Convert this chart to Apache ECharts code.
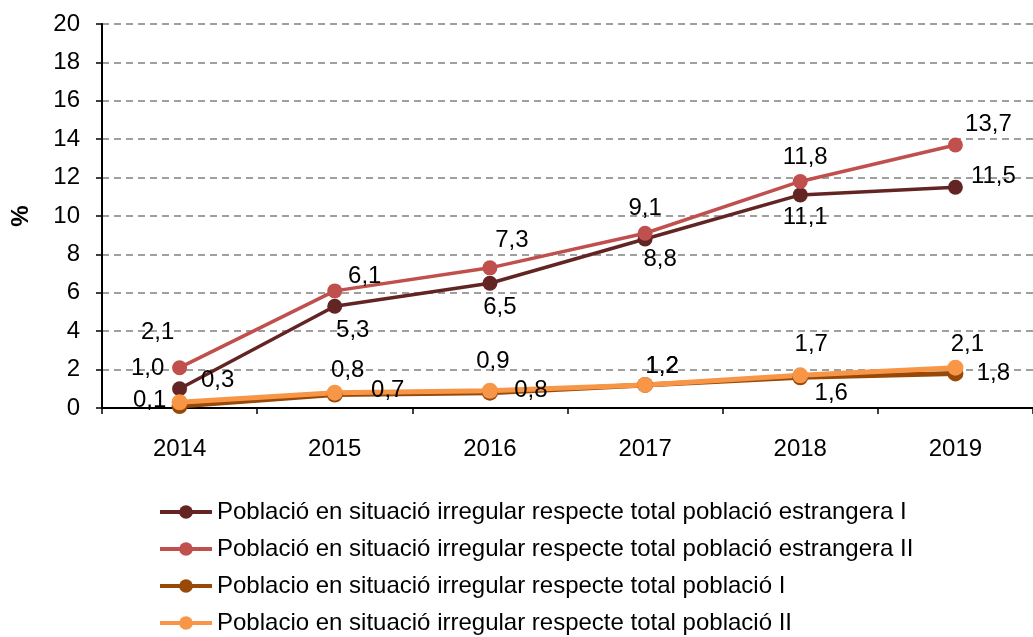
<!DOCTYPE html>
<html>
<head>
<meta charset="utf-8">
<script src="https://cdn.jsdelivr.net/npm/echarts@6/dist/echarts.min.js"></script>
<style>
  html, body { margin: 0; padding: 0; background: #fff; }
  #chart { width: 1033px; height: 637px; }
</style>
</head>
<body>
<div id="chart"></div>
<script>
// Dades
const years = ['2014', '2015', '2016', '2017', '2018', '2019']
const estrangeraI  = [1.0, 5.3, 6.5, 8.8, 11.1, 11.5]
const estrangeraII = [2.1, 6.1, 7.3, 9.1, 11.8, 13.7]
const totalI       = [0.1, 0.7, 0.8, 1.2, 1.6, 1.8]
const totalII      = [0.3, 0.8, 0.9, 1.2, 1.7, 2.1]
const seriesNames = [
  'Població en situació irregular respecte total població estrangera I',
  'Població en situació irregular respecte total població estrangera II',
  'Poblacio en situació irregular respecte total població I',
  'Poblacio en situació irregular respecte total població II',
]

// Desplaçament de cada etiqueta respecte al seu punt (estil)
const offsEstI  = [[-32, -20], [18, 24], [10, 24], [15, 20], [5, 22], [38, -11]]
const offsEstII = [[-22, -35], [30, -15], [22, -27], [0, -25], [5, -24], [33, -21]]
const offsTotI  = [[-30, -6], [53, -4], [41, -2], [17, -19], [31, 16], [38, 0]]
const offsTotII = [[38, -22], [13, -22], [3, -29], [17, -19], [11, -31], [12, -23]]

const FONT = '"Liberation Sans", Arial, sans-serif'

function lineSeries(name, values, offs, color, width, size) {
  return {
    name,
    type: 'line',
    data: values,
    symbol: 'circle',
    symbolSize: size,
    lineStyle: { color, width },
    itemStyle: { color },
    label: {
      show: true,
      position: 'inside',
      align: 'center',
      verticalAlign: 'middle',
      color: '#000',
      fontSize: 24,
      fontFamily: FONT,
      formatter: p => p.value.toFixed(1).replace('.', ','),
    },
    labelLayout: p => ({ dx: offs[p.dataIndex][0], dy: offs[p.dataIndex][1], hideOverlap: false }),
    emphasis: { disabled: true },
    animation: false,
  }
}

const chart = echarts.init(document.getElementById('chart'), null, { renderer: 'canvas' })
chart.setOption({
  backgroundColor: '#fff',
  textStyle: { fontFamily: FONT },
  grid: { left: 102, top: 24, width: 942, height: 384, containLabel: false },
  xAxis: {
    type: 'category',
    data: years,
    boundaryGap: true,
    axisLine: { lineStyle: { color: '#000', width: 2 } },
    axisTick: { show: true, length: 6, lineStyle: { color: '#000', width: 1.5 } },
    axisLabel: { color: '#000', fontSize: 24, margin: 29, fontFamily: FONT },
    splitLine: { show: false },
  },
  yAxis: {
    type: 'value',
    min: 0,
    max: 20,
    interval: 2,
    name: '%',
    nameLocation: 'middle',
    nameGap: 69,
    nameRotate: 90,
    nameTextStyle: { color: '#000', fontSize: 24, fontWeight: 'bold', fontFamily: FONT },
    axisLine: { show: true, lineStyle: { color: '#000', width: 2 } },
    axisTick: { show: true, length: 6, lineStyle: { color: '#000', width: 1.5 } },
    axisLabel: { color: '#000', fontSize: 24, margin: 22, fontFamily: FONT },
    splitLine: { show: true, lineStyle: { color: '#808080', type: [7, 5], width: 1.5 } },
  },
  legend: {
    orient: 'vertical',
    left: 158,
    top: 500,
    padding: 0,
    itemGap: 13,
    itemWidth: 52,
    itemHeight: 17,
    lineStyle: { width: 4 },
    textStyle: { color: '#000', fontSize: 24, fontFamily: FONT },
    data: seriesNames,
  },
  series: [
    lineSeries(seriesNames[0], estrangeraI, offsEstI, '#632523', 3.5, 15),
    lineSeries(seriesNames[1], estrangeraII, offsEstII, '#C0504D', 3.5, 15),
    lineSeries(seriesNames[2], totalI, offsTotI, '#984807', 5, 16),
    lineSeries(seriesNames[3], totalII, offsTotII, '#F79646', 5, 16),
  ],
})
</script>
</body>
</html>
